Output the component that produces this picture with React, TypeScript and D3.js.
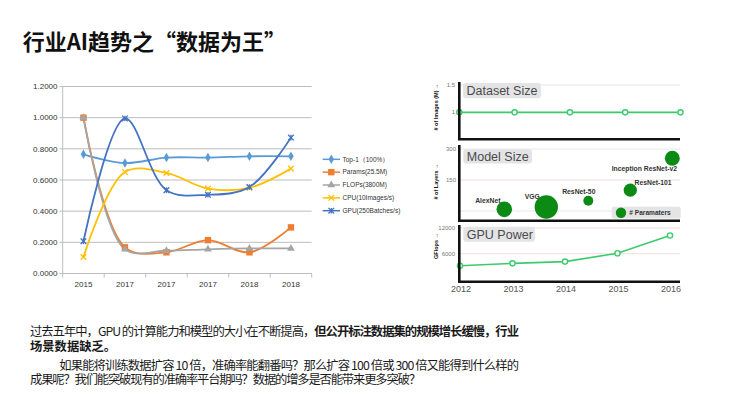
import React from 'react';
import * as d3 from 'd3';

// ---------- left chart data ----------
const categories = ['2015', '2017', '2017', '2017', '2018', '2018'];
const top1 = [0.765, 0.709, 0.744, 0.744, 0.752, 0.752];
const params = [1.0, 0.168, 0.136, 0.214, 0.136, 0.296];
const flops = [1.0, 0.155, 0.146, 0.155, 0.161, 0.161];
const cpu = [0.106, 0.652, 0.645, 0.545, 0.55, 0.673];
const gpu = [0.207, 0.995, 0.535, 0.505, 0.555, 0.872];
const yTicks = [0, 0.2, 0.4, 0.6, 0.8, 1.0, 1.2];
const seriesNames = ['Top-1（100%）', 'Params(25.5M)', 'FLOPs(3800M)', 'CPU(10Images/s)', 'GPU(250Batches/s)'];
const seriesColors = ['#5B9BD5', '#ED7D31', '#A5A5A5', '#FFC000', '#4472C4'];
const seriesMarkers = ['diamond', 'square', 'triangle', 'x', 'star'];

// ---------- right chart data ----------
const years = [2012, 2013, 2014, 2015, 2016];
const datasetSize = [1, 1, 1, 1, 1];
const datasetTicks = [1, 1.5];
const models = ['AlexNet', 'VGG', 'ResNet-50', 'ResNet-101', 'Inception ResNet-v2'];
const modelLayers = [8, 19, 50, 101, 255];
const modelParams = [61, 138, 25, 44, 56];
const layerTicks = [0, 150, 300];
const gpuPower = [3200, 3750, 4150, 6100, 10250];
const gpuTicks = [6000, 12000];

// ---------- text ----------
const title = '行业AI趋势之“数据为王”';
const para1a = '过去五年中，GPU 的计算能力和模型的大小在不断提高，';
const para1b = '但公开标注数据集的规模增长缓慢，行业';
const para2 = '场景数据缺乏。';
const para3 = '如果能将训练数据扩容 10 倍，准确率能翻番吗？那么扩容 100 倍或 300 倍又能得到什么样的';
const para4 = '成果呢？我们能突破现有的准确率平台期吗？数据的增多是否能带来更多突破？';

const CJK = '"Noto Sans CJK SC", "Noto Sans", sans-serif';
const SANS = '"Liberation Sans", Arial, sans-serif';

function Marker({ type, x, y, color }: { type: string; x: number; y: number; color: string }) {
  if (type === 'diamond') {
    const p = d3.symbol(d3.symbolDiamond, 26)();
    return <path d={p || ''} transform={`translate(${x},${y})`} fill={color} />;
  }
  if (type === 'square') {
    return <rect x={x - 3.2} y={y - 3.2} width={6.4} height={6.4} fill={color} />;
  }
  if (type === 'triangle') {
    const p = d3.symbol(d3.symbolTriangle, 26)();
    return <path d={p || ''} transform={`translate(${x},${y})`} fill={color} />;
  }
  const s = 2.8;
  return (
    <g stroke={color} strokeWidth={1.3}>
      <line x1={x - s} y1={y - s} x2={x + s} y2={y + s} />
      <line x1={x - s} y1={y + s} x2={x + s} y2={y - s} />
      {type === 'star' && <line x1={x} y1={y - s} x2={x} y2={y + s} />}
    </g>
  );
}

function LeftChart() {
  const x = d3.scaleBand<string>().domain(categories.map((_, i) => String(i))).range([62.7, 311.7]);
  const y = d3.scaleLinear().domain([0, 1.2]).range([273.5, 86.5]);
  const cx = (i: number) => (x(String(i)) as number) + x.bandwidth() / 2;
  const all = [top1, params, flops, cpu, gpu];
  const line = d3
    .line<number>()
    .x((_, i) => cx(i))
    .y((d) => y(d))
    .curve(d3.curveCatmullRom.alpha(0.5));
  const boundaries = categories.map((_, i) => x(String(i)) as number).concat([x.range()[1]]);
  const legendY = d3.scalePoint<string>().domain(seriesNames).range([159.3, 210.7]);
  return (
    <g>
      {yTicks.map((t) => (
        <g key={t}>
          <line x1={59.5} x2={311.7} y1={y(t)} y2={y(t)} stroke="#bdbdbd" strokeWidth={1} />
          <text x={57.5} y={y(t)} dy="0.35em" textAnchor="end" fontSize={8} fontFamily={SANS} fill="#333">
            {t.toFixed(4)}
          </text>
        </g>
      ))}
      <line x1={62.7} x2={62.7} y1={y(1.2)} y2={y(0)} stroke="#bdbdbd" strokeWidth={1} />
      {boundaries.map((b, i) => (
        <line key={i} x1={b} x2={b} y1={y(0)} y2={y(0) + 4} stroke="#bdbdbd" strokeWidth={1} />
      ))}
      {categories.map((c, i) => (
        <text key={i} x={cx(i)} y={287} textAnchor="middle" fontSize={8} fontFamily={SANS} fill="#333">
          {c}
        </text>
      ))}
      {all.map((s, k) => (
        <path key={k} d={line(s) || ''} fill="none" stroke={seriesColors[k]} strokeWidth={1.8} />
      ))}
      {all.map((s, k) =>
        s.map((v, i) => <Marker key={`${k}-${i}`} type={seriesMarkers[k]} x={cx(i)} y={y(v)} color={seriesColors[k]} />)
      )}
      {seriesNames.map((n, k) => {
        const ly = legendY(n) as number;
        return (
          <g key={n}>
            <line x1={322.7} x2={340} y1={ly} y2={ly} stroke={seriesColors[k]} strokeWidth={1.5} />
            <Marker type={seriesMarkers[k]} x={331.3} y={ly} color={seriesColors[k]} />
            <text x={342.5} y={ly} dy="0.35em" fontSize={6.5} fontFamily={SANS} fill="#333">
              {n}
            </text>
          </g>
        );
      })}
    </g>
  );
}

function PanelLabel({ x, y, w, h, text }: { x: number; y: number; w: number; h: number; text: string }) {
  return (
    <g>
      <rect x={x} y={y} width={w} height={h} rx={3} fill="#e4e4e6" />
      <text x={x + 3.5} y={y + h / 2} dy="0.36em" fontSize={12.5} fontFamily={SANS} fill="#4a4a4a">
        {text}
      </text>
    </g>
  );
}

function AxisTitle({ x, y, text }: { x: number; y: number; text: string }) {
  return (
    <text
      transform={`translate(${x},${y}) rotate(-90)`}
      textAnchor="middle"
      dy="0.35em"
      fontSize={5.5}
      fontWeight="bold"
      fontFamily={SANS}
      fill="#111"
    >
      {text}
    </text>
  );
}

function RightChart() {
  const axisX = 459.3;
  const rightX = 680;
  // panel 1
  const x1 = d3.scaleLinear().domain([2012, 2016]).range([459.3, 680.5]);
  const y1 = d3.scaleLinear().domain([0, 1.5]).range([167, 85]);
  // panel 2
  const x2 = d3.scalePoint<string>().domain(models).range([504.3, 672.3]);
  const y2 = d3.scaleLinear().domain([0, 300]).range([211, 149]);
  const r2 = d3.scaleSqrt().domain([0, 138]).range([0, 11.7]);
  // panel 3
  const x3 = d3.scaleLinear().domain([2012, 2016]).range([460, 670]);
  const y3 = d3.scaleLinear().domain([0, 12000]).range([279.4, 228]);
  const green = '#3ccb6c';
  const bubble = '#0b8a14';
  const line1 = d3.line<number>().x((_, i) => x1(years[i])).y((d) => y1(d));
  const line3 = d3.line<number>().x((_, i) => x3(years[i])).y((d) => y3(d));
  const labelPos: Record<string, [number, number]> = {
    AlexNet: [-16.5, -6],
    VGG: [-14, -8],
    'ResNet-50': [-9.5, -6.2],
    'ResNet-101': [22.8, -5],
    'Inception ResNet-v2': [-28, 12.8],
  };
  return (
    <g>
      {/* panel 1 */}
      {datasetTicks.map((t) => (
        <g key={t}>
          <line x1={axisX} x2={rightX} y1={y1(t)} y2={y1(t)} stroke="#e6e6e6" strokeWidth={1} />
          <text x={455} y={y1(t)} dy="0.35em" textAnchor="end" fontSize={6} fontFamily={SANS} fill="#777">
            {t}
          </text>
        </g>
      ))}
      <PanelLabel x={463} y={83} w={78} h={15.3} text="Dataset Size" />
      <path d={line1(datasetSize) || ''} fill="none" stroke={green} strokeWidth={1.6} />
      {datasetSize.map((v, i) => (
        <circle key={i} cx={x1(years[i])} cy={y1(v)} r={2.6} fill="#fff" stroke={green} strokeWidth={1.4} />
      ))}
      <AxisTitle x={436.5} y={107} text="# of Images (M) →" />

      {/* panel 2 */}
      {layerTicks.map((t, i) => (
        <g key={t}>
          <line x1={axisX} x2={rightX} y1={y2(t)} y2={y2(t)} stroke={i === 1 ? '#f3dede' : '#e8e8e8'} strokeWidth={1} />
          {t > 0 && (
            <text x={456} y={y2(t)} dy="0.35em" textAnchor="end" fontSize={6} fontFamily={SANS} fill="#777">
              {t}
            </text>
          )}
        </g>
      ))}
      <PanelLabel x={463.3} y={149.3} w={68.7} h={14.2} text="Model Size" />
      {models.map((m, i) => (
        <circle key={m} cx={x2(m)} cy={y2(modelLayers[i])} r={r2(modelParams[i])} fill={bubble} />
      ))}
      {models.map((m, i) => (
        <text
          key={m}
          x={(x2(m) as number) + labelPos[m][0]}
          y={y2(modelLayers[i]) + labelPos[m][1]}
          textAnchor="middle"
          fontSize={6.8}
          fontWeight="bold"
          fontFamily={SANS}
          fill="#333"
        >
          {m}
        </text>
      ))}
      <rect x={611.7} y={206.7} width={69} height={11.8} rx={2} fill="#e4e4e6" />
      <circle cx={621} cy={212.7} r={5.2} fill={bubble} />
      <text x={629.3} y={215.3} fontSize={6.6} fontWeight="bold" fontFamily={SANS} fill="#333">
        # Paramaters
      </text>
      <AxisTitle x={436.5} y={181.5} text="# of Layers →" />

      {/* panel 3 */}
      {gpuTicks.map((t) => (
        <g key={t}>
          <line x1={axisX} x2={rightX} y1={y3(t)} y2={y3(t)} stroke="#f3dede" strokeWidth={1} />
          <text x={455} y={y3(t)} dy="0.35em" textAnchor="end" fontSize={6} fontFamily={SANS} fill="#777">
            {t}
          </text>
        </g>
      ))}
      <PanelLabel x={463.3} y={226.7} w={71.7} h={15} text="GPU Power" />
      <path d={line3(gpuPower) || ''} fill="none" stroke={green} strokeWidth={1.6} />
      {gpuPower.map((v, i) => (
        <circle key={i} cx={x3(years[i])} cy={y3(v)} r={2.6} fill="#fff" stroke={green} strokeWidth={1.4} />
      ))}
      {years.map((yr) => (
        <text key={yr} x={x3(yr) + 1} y={291.5} textAnchor="middle" fontSize={9} fontFamily={SANS} fill="#555">
          {yr}
        </text>
      ))}
      <AxisTitle x={436.5} y={246} text="GFlops →" />

      {/* thick axes */}
      <g stroke="#111" strokeWidth={2.6} fill="none">
        <path d={`M${axisX},82 V139.3 H${rightX}`} />
        <path d={`M${axisX},145 V220.7 H${rightX}`} />
        <path d={`M${axisX},225 V281.7 H${rightX}`} />
      </g>
    </g>
  );
}

export default function App() {
  return (
    <svg
      width={740}
      height={401}
      style={{ position: 'absolute', left: 0, top: 0, background: '#fff' }}
      xmlns="http://www.w3.org/2000/svg"
    >
      <rect width={740} height={401} fill="#fff" />
      <text x={22.7} y={50} fontSize={22} fontWeight="bold" fontFamily={CJK} fill="#111">
        {title}
      </text>
      <LeftChart />
      <RightChart />
      <g fontFamily={CJK} fontSize={12.3} fill="#1a1a1a">
        <text x={30} y={336} textLength={489} lengthAdjust="spacing">
          <tspan>{para1a}</tspan>
          <tspan fontWeight="bold">{para1b}</tspan>
        </text>
        <text x={30} y={350.5} fontWeight="bold">
          {para2}
        </text>
        <text x={59.3} y={369.5} textLength={459.7} lengthAdjust="spacing">
          {para3}
        </text>
        <text x={30} y={384} textLength={391} lengthAdjust="spacing">
          {para4}
        </text>
      </g>
    </svg>
  );
}
